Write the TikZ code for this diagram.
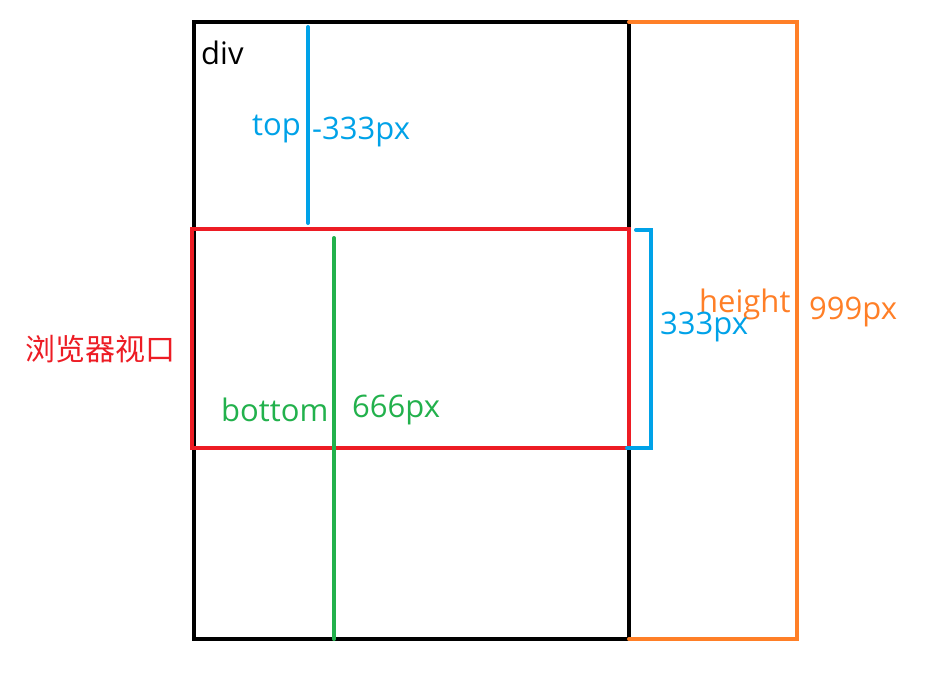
\documentclass[tikz,border=0pt]{standalone}
\usepackage{fontspec}
\setmainfont{Open Sans}
\newfontfamily\cjk{Noto Sans CJK SC}
\definecolor{pblue}{HTML}{00A2E8}
\definecolor{pred}{HTML}{ED1C24}
\definecolor{pgreen}{HTML}{22B14C}
\definecolor{porange}{HTML}{FF7F27}
\tikzset{
  lbl/.style={inner sep=0pt, anchor=west, font=\fontsize{31}{33}\selectfont},
  stroke/.style={line width=4pt},
}
\begin{document}
\begin{tikzpicture}[x=1pt,y=-1pt]
\useasboundingbox[fill=white] (0,0) rectangle (925,674);
% div box
\draw[stroke, black] (194,22) rectangle (629,639);
% orange height bracket
\draw[stroke, porange, line cap=round] (629,22) -- (797,22) -- (797,639) -- (629,639);
% red viewport
\draw[stroke, pred] (192,229) rectangle (629,448);
% blue top line
\draw[stroke, pblue, line cap=round] (308,27) -- (308,223);
% blue bracket
\draw[stroke, pblue, line cap=round] (636,230) -- (651,230) -- (651,448) -- (627,448);
% green bottom line
\draw[stroke, pgreen, line cap=round] (334,238) -- (334,639);
% texts
\node[lbl, black] (div) at (201,53) {div};
\node[lbl, pblue] (top) at (252,129) {top};
\node[lbl, pblue] (topv) at (312,132) {-333px};
\node[lbl, pred, font=\cjk\fontsize{30}{32}\selectfont] (vp) at (25,349) {浏览器视口};
\node[lbl, pgreen] (bot) at (221,410) {bottom};
\node[lbl, pgreen] (botv) at (352,410) {666px};
\node[lbl, porange] (hgt) at (699,304) {height};
\node[lbl, pblue] (vh) at (660,327) {333px};
\node[lbl, porange] (hv) at (809,312) {999px};
\end{tikzpicture}
\end{document}
